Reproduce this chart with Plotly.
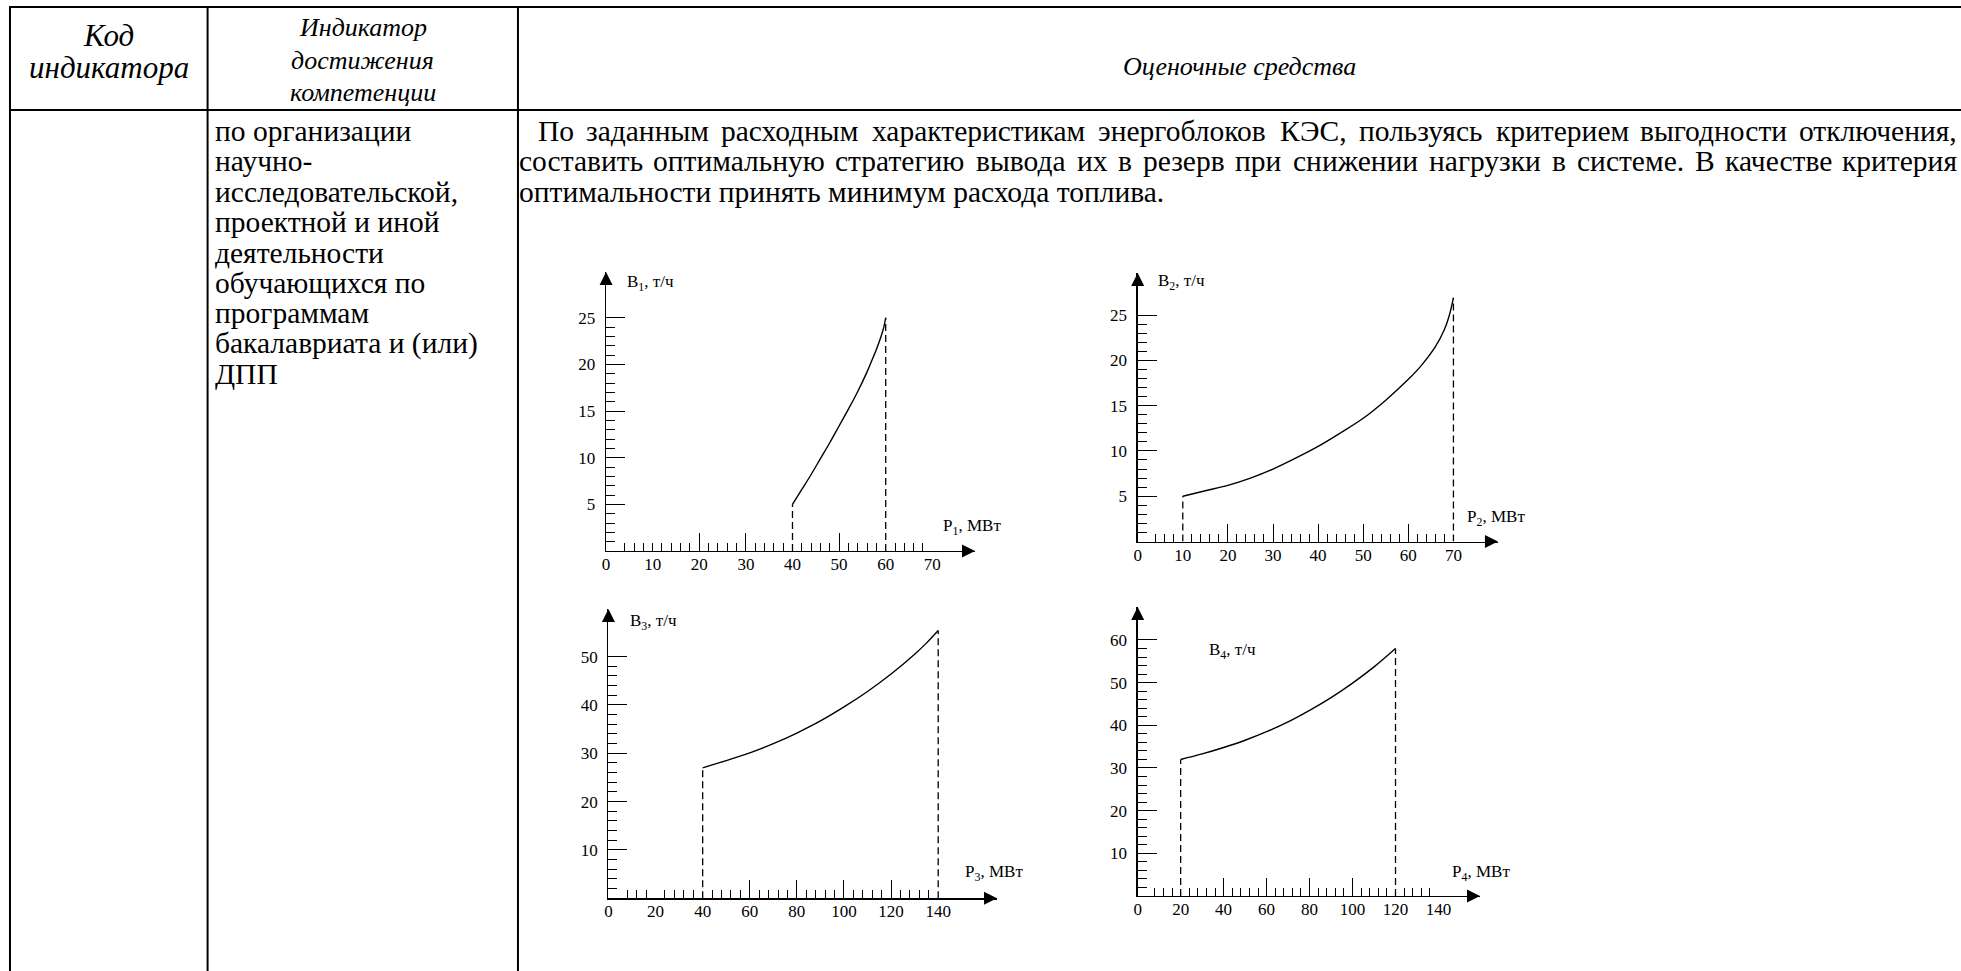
import glob
import struct
import subprocess
import plotly.graph_objects as go

# ---------------- text content ----------------
HEADER_COL1 = ["Код", "индикатора"]
HEADER_COL2 = ["Индикатор", "достижения", "компетенции"]
HEADER_COL3 = "Оценочные средства"
COL2_LINES = ["по организации", "научно-", "исследовательской,", "проектной и иной",
              "деятельности", "обучающихся по", "программам", "бакалавриата и (или)", "ДПП"]
TASK_LINE1 = "По заданным расходным характеристикам энергоблоков КЭС, пользуясь критерием выгодности отключения,"
TASK_LINE2 = "составить оптимальную стратегию вывода их в резерв при снижении нагрузки в системе. В качестве критерия"
TASK_LINE3 = "оптимальности принять минимум расхода топлива."

# ---------------- chart data ----------------
P1 = [40, 42, 44, 46, 48, 50, 52, 54, 56, 57, 58, 59, 59.6, 60]
B1 = [5.0, 6.6, 8.2, 9.9, 11.6, 13.4, 15.2, 17.1, 19.2, 20.4, 21.6, 23.0, 24.0, 25.0]
P2 = [10, 15, 20, 25, 30, 35, 40, 45, 50, 55, 60, 63, 66, 68, 69, 70]
B2 = [5.0, 5.6, 6.2, 7.0, 8.0, 9.2, 10.5, 12.0, 13.6, 15.6, 17.9, 19.5, 21.5, 23.4, 24.8, 26.9]
P3 = [40, 50, 60, 70, 80, 90, 100, 110, 120, 130, 135, 140]
B3 = [27.0, 28.5, 30.1, 32.0, 34.2, 36.7, 39.6, 42.8, 46.4, 50.5, 52.8, 55.4]
P4 = [20, 30, 40, 50, 60, 70, 80, 90, 100, 110, 120]
B4 = [32.0, 33.3, 34.8, 36.5, 38.5, 40.8, 43.5, 46.5, 49.9, 53.7, 58.0]

X_LABELS_1 = [0, 10, 20, 30, 40, 50, 60, 70]
X_LABELS_2 = [0, 10, 20, 30, 40, 50, 60, 70]
X_LABELS_3 = [0, 20, 40, 60, 80, 100, 120, 140]
X_LABELS_4 = [0, 20, 40, 60, 80, 100, 120, 140]
Y_LABELS_1 = [5, 10, 15, 20, 25]
Y_LABELS_2 = [5, 10, 15, 20, 25]
Y_LABELS_3 = [10, 20, 30, 40, 50]
Y_LABELS_4 = [10, 20, 30, 40, 50, 60]
X_LONG_1 = [20, 30, 50]
X_LONG_2 = [20, 30, 40, 50, 60]
X_LONG_3 = [60, 80, 100, 120]
X_LONG_4 = [40, 60, 80, 100]
X_SHORT_1 = [v for v in range(4, 69, 2) if v not in (20, 30, 40, 50, 60)]
X_SHORT_2 = [v for v in range(4, 69, 2) if v % 10]
X_SHORT_3 = [v for v in range(8, 137, 4) if v % 20]
X_SHORT_4 = [v for v in range(8, 137, 4) if v % 20]
Y_SHORT_1 = [v for v in range(1, 25) if v % 5]
Y_SHORT_2 = [v for v in range(1, 25) if v % 5]
Y_SHORT_3 = [v for v in range(2, 49, 2) if v % 10]
Y_SHORT_4 = [v for v in range(2, 59, 2) if v % 10]

# ---------------- layout / style ----------------
W, H = 1961, 971
FONT = '"Liberation Serif", "Times New Roman", Tinos, "Nimbus Roman", "DejaVu Serif", serif'
BLACK = "black"
TEXT_SIZE = 29.5
COL2_SIZE = 29.5
HEAD1_SIZE = 31
HEAD2_SIZE = 26
HEAD3_SIZE = 26
TICK_SIZE = 17
LABEL_SIZE = 17


def px(x):
    return x / W


def py(y):
    return 1 - y / H


def font_file(name):
    try:
        out = subprocess.run(["fc-match", "-f", "%{file}", name],
                             capture_output=True, text=True, timeout=5).stdout
        if out:
            return [out]
    except Exception:
        pass
    return []


# --- simple TTF advance-width reader for justification ---
def make_measure():
    cands = font_file("Liberation Serif") + glob.glob("/usr/**/LiberationSerif-Regular.ttf", recursive=True)
    try:
        data = open(cands[0], "rb").read()
        nt = struct.unpack(">H", data[4:6])[0]
        tabs = {}
        for i in range(nt):
            tag, _, off, ln = struct.unpack(">4sIII", data[12 + 16 * i:28 + 16 * i])
            tabs[tag.decode("latin1")] = off
        upem = struct.unpack(">H", data[tabs["head"] + 18:tabs["head"] + 20])[0]
        nhm = struct.unpack(">H", data[tabs["hhea"] + 34:tabs["hhea"] + 36])[0]
        hm = tabs["hmtx"]
        adv = [struct.unpack(">H", data[hm + 4 * i:hm + 4 * i + 2])[0] for i in range(nhm)]
        cm = tabs["cmap"]
        n = struct.unpack(">H", data[cm + 2:cm + 4])[0]
        sub = None
        for i in range(n):
            pid, eid, off = struct.unpack(">HHI", data[cm + 4 + 8 * i:cm + 12 + 8 * i])
            fmt = struct.unpack(">H", data[cm + off:cm + off + 2])[0]
            if fmt == 4 and pid == 3 and eid == 1:
                sub = cm + off
        seg2 = struct.unpack(">H", data[sub + 6:sub + 8])[0]
        seg = seg2 // 2
        ends = struct.unpack(">%dH" % seg, data[sub + 14:sub + 14 + seg2])
        starts = struct.unpack(">%dH" % seg, data[sub + 16 + seg2:sub + 16 + 2 * seg2])
        deltas = struct.unpack(">%dh" % seg, data[sub + 16 + 2 * seg2:sub + 16 + 3 * seg2])
        rpos = sub + 16 + 3 * seg2
        roffs = struct.unpack(">%dH" % seg, data[rpos:rpos + seg2])

        def gid(c):
            for i in range(seg):
                if starts[i] <= c <= ends[i]:
                    if roffs[i] == 0:
                        return (c + deltas[i]) & 0xFFFF
                    a = rpos + 2 * i + roffs[i] + 2 * (c - starts[i])
                    g = struct.unpack(">H", data[a:a + 2])[0]
                    return (g + deltas[i]) & 0xFFFF if g else 0
            return 0

        def measure(s, size):
            return sum(adv[min(gid(ord(ch)), nhm - 1)] for ch in s) * size / upem
        return measure
    except Exception:
        return lambda s, size: len(s) * 0.46 * size


measure = make_measure()

fig = go.Figure()
annotations = []
shapes = []

# table borders
TABLE_TOP, HEAD_BOTTOM = 7, 110
COLS = [6, 204, 515]
for yline in (TABLE_TOP, HEAD_BOTTOM):
    shapes.append(dict(type="line", xref="paper", yref="paper", x0=px(COLS[0] - 1), x1=1.0,
                       y0=py(yline), y1=py(yline), line=dict(color=BLACK, width=2)))
for xc in COLS:
    shapes.append(dict(type="line", xref="paper", yref="paper", x0=px(xc), x1=px(xc),
                       y0=py(TABLE_TOP), y1=0, line=dict(color=BLACK, width=2)))


def text(x, y, s, size, anchor="left", italic=False):
    annotations.append(dict(xref="paper", yref="paper", x=px(x), y=py(y), text=("<i>%s</i>" % s) if italic else s,
                            showarrow=False, xanchor=anchor, yanchor="middle", borderpad=0,
                            font=dict(family=FONT, size=size, color=BLACK)))


# header
for s, y in zip(HEADER_COL1, (36, 67)):
    text((COLS[0] + COLS[1]) / 2, y, s, HEAD1_SIZE, "center", True)
for s, y in zip(HEADER_COL2, (27, 60, 93)):
    text((COLS[1] + COLS[2]) / 2, y, s, HEAD2_SIZE, "center", True)
text((COLS[2] + W) / 2, 66, HEADER_COL3, HEAD3_SIZE, "center", True)

# column 2 body
LINE_Y0, LINE_DY = 131, 30.4
for i, s in enumerate(COL2_LINES):
    text(210, LINE_Y0 + i * LINE_DY, s, COL2_SIZE)


# justified task text
def justify(line, x0, x1, y, size):
    words = line.split(" ")
    widths = [measure(w, size) for w in words]
    gap = (x1 - x0 - sum(widths)) / (len(words) - 1)
    x = x0
    for k, (w, wd) in enumerate(zip(words, widths)):
        if k == len(words) - 1:
            text(x1, y, w, size, "right")
        else:
            text(x, y, w, size, "left")
        x += wd + gap


RIGHT = 1958
justify(TASK_LINE1, 534, RIGHT, LINE_Y0, TEXT_SIZE)
justify(TASK_LINE2, 515, RIGHT, LINE_Y0 + LINE_DY, TEXT_SIZE)
text(515, LINE_Y0 + 2 * LINE_DY, TASK_LINE3, TEXT_SIZE)

# ---------------- the four charts ----------------
charts = [
    dict(P=P1, B=B1, n=1, xl=X_LABELS_1, yl=Y_LABELS_1, xlong=X_LONG_1, xshort=X_SHORT_1, yshort=Y_SHORT_1,
         yname="В<sub>1</sub>, т/ч", xname="P<sub>1</sub>, МВт",
         ox=603.3, oy=551.0, xtip=973.0, ytip=272.0, xs=4.67, ys=9.33, yn=(623, 283), xn=(940, 527)),
    dict(P=P2, B=B2, n=2, xl=X_LABELS_2, yl=Y_LABELS_2, xlong=X_LONG_2, xshort=X_SHORT_2, yshort=Y_SHORT_2,
         yname="В<sub>2</sub>, т/ч", xname="P<sub>2</sub>, МВт",
         ox=1136.0, oy=541.5, xtip=1497.0, ytip=273.0, xs=4.52, ys=9.06, yn=(1155, 282), xn=(1465, 518)),
    dict(P=P3, B=B3, n=3, xl=X_LABELS_3, yl=Y_LABELS_3, xlong=X_LONG_3, xshort=X_SHORT_3, yshort=Y_SHORT_3,
         yname="В<sub>3</sub>, т/ч", xname="P<sub>3</sub>, МВт",
         ox=605.7, oy=898.3, xtip=995.0, ytip=609.0, xs=2.36, ys=4.833, yn=(626, 622), xn=(962, 873)),
    dict(P=P4, B=B4, n=4, xl=X_LABELS_4, yl=Y_LABELS_4, xlong=X_LONG_4, xshort=X_SHORT_4, yshort=Y_SHORT_4,
         yname="В<sub>4</sub>, т/ч", xname="P<sub>4</sub>, МВт",
         ox=1136.0, oy=896.0, xtip=1479.0, ytip=607.0, xs=2.153, ys=4.267, yn=(1206, 651), xn=(1450, 873)),
]

layout_axes = {}
tickfont = dict(family=FONT, size=TICK_SIZE, color=BLACK)
for c in charts:
    n = c["n"]
    xr = [0, (c["xtip"] - c["ox"]) / c["xs"]]
    yr = [0, (c["oy"] - c["ytip"]) / c["ys"]]
    xd = [px(c["ox"]), px(c["xtip"])]
    yd = [py(c["oy"]), py(c["ytip"])]
    xa, ya, la = "x%d" % n, "y%d" % n, "x%d" % (n + 4)
    layout_axes["xaxis%d" % n] = dict(
        domain=xd, range=xr, anchor=ya, showline=True, linecolor=BLACK, linewidth=1.3,
        showgrid=False, zeroline=False, ticks="inside", tickvals=c["xlong"], ticklen=18,
        tickwidth=1, tickcolor=BLACK, showticklabels=False, fixedrange=True,
        minor=dict(tickvals=c["xshort"], ticks="inside", ticklen=8, tickwidth=1,
                   tickcolor=BLACK, showgrid=False))
    layout_axes["xaxis%d" % (n + 4)] = dict(
        overlaying=xa, anchor=ya, side="bottom", range=xr, showline=False, showgrid=False,
        zeroline=False, ticks="", tickvals=c["xl"], ticktext=[str(v) for v in c["xl"]],
        tickfont=tickfont, ticklabelstandoff=1, fixedrange=True)
    layout_axes["yaxis%d" % n] = dict(
        domain=yd, range=yr, anchor=xa, showline=True, linecolor=BLACK, linewidth=1.3,
        showgrid=False, zeroline=False, ticks="inside", tickvals=c["yl"],
        ticktext=[str(v) for v in c["yl"]], ticklen=19, tickwidth=1, tickcolor=BLACK,
        tickfont=tickfont, ticklabelstandoff=6, fixedrange=True,
        minor=dict(tickvals=c["yshort"], ticks="inside", ticklen=9, tickwidth=1,
                   tickcolor=BLACK, showgrid=False))

    fig.add_trace(go.Scatter(x=c["P"], y=c["B"], mode="lines", xaxis=xa, yaxis=ya,
                             line=dict(color=BLACK, width=1.4, shape="spline", smoothing=1.0),
                             hoverinfo="skip", showlegend=False))
    for k in (0, -1):
        fig.add_trace(go.Scatter(x=[c["P"][k], c["P"][k]], y=[0, c["B"][k]], mode="lines",
                                 xaxis=xa, yaxis=ya, line=dict(color=BLACK, width=1.3, dash="7px,4px"),
                                 hoverinfo="skip", showlegend=False))
    fig.add_trace(go.Scatter(x=[xr[1]], y=[0], mode="markers", xaxis=xa, yaxis=ya, cliponaxis=False,
                             marker=dict(symbol="arrow-right", size=13, color=BLACK, line=dict(width=0)),
                             hoverinfo="skip", showlegend=False))
    fig.add_trace(go.Scatter(x=[0], y=[yr[1]], mode="markers", xaxis=xa, yaxis=ya, cliponaxis=False,
                             marker=dict(symbol="arrow-up", size=13, color=BLACK, line=dict(width=0)),
                             hoverinfo="skip", showlegend=False))
    fig.add_trace(go.Scatter(x=c["xl"], y=[0] * len(c["xl"]), mode="markers", xaxis=la, yaxis=ya,
                             marker=dict(opacity=0), hoverinfo="skip", showlegend=False))
    text(c["yn"][0], c["yn"][1], c["yname"], LABEL_SIZE)
    text(c["xn"][0], c["xn"][1], c["xname"], LABEL_SIZE)

fig.update_layout(
    width=W, height=H, margin=dict(l=0, r=0, t=0, b=0), paper_bgcolor="white", plot_bgcolor="rgba(0,0,0,0)",
    showlegend=False, annotations=annotations, shapes=shapes, font=dict(family=FONT, color=BLACK),
    **layout_axes)

fig.write_html("out.html", config={"displayModeBar": False, "staticPlot": True},
               post_script="document.body.style.margin='0';document.body.style.overflow='hidden';")
